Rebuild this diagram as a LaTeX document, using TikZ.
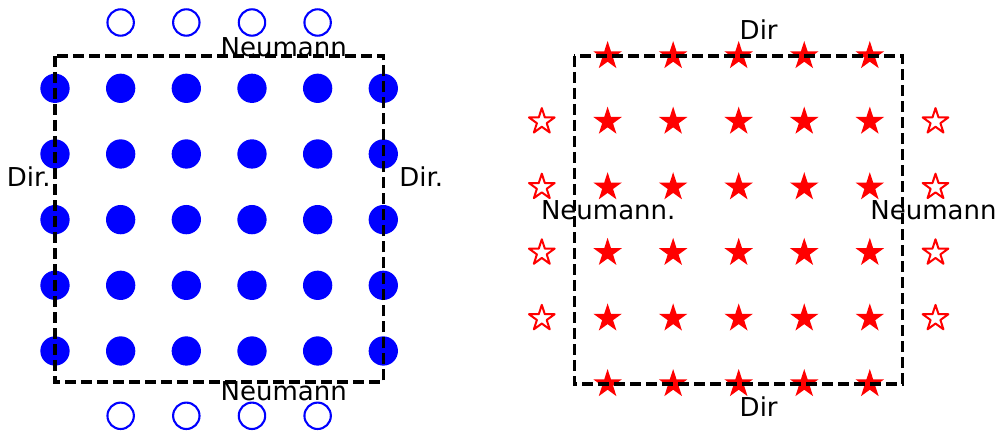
\documentclass[tikz,border=0pt]{standalone}
\usepackage{fontspec}
\setmainfont{DejaVu Sans}
% five-pointed star outline of outer radius #1 (one point upward, y axis points down)
\newcommand\pentastar[1]{(-90:#1) -- (-54:{0.382*#1}) -- (-18:#1) -- (18:{0.382*#1}) -- (54:#1) -- (90:{0.382*#1}) -- (126:#1) -- (162:{0.382*#1}) -- (198:#1) -- (234:{0.382*#1}) -- cycle}
\begin{document}
\begin{tikzpicture}[x=1pt,y=-1pt,
  bnd/.style={draw=black, line width=3.4pt, dash pattern=on 11pt off 5pt, line join=miter},
  dot/.style={circle, fill=blue, inner sep=0pt, minimum size=29.3pt},
  ghostdot/.style={circle, draw=blue, line width=2.1pt, inner sep=0pt, minimum size=26.4pt},
  fstar/.style={fill=red},
  ostar/.style={draw=red, fill=white, line width=2pt, line join=round},
  lbl/.style={font=\fontsize{26}{26}\selectfont, inner sep=0pt, anchor=base}]
\useasboundingbox (0,0) rectangle (999,433);

% ---- left grid: cell-centred unknowns with ghost rows ----
\foreach \i in {0,...,5} {
  \foreach \j in {0,...,4} {
    \node[dot] (l-\i-\j) at ({55+65.66*\i},{88.3+65.67*\j}) {};
  }
}
\foreach \i in {1,...,4} {
  \node[ghostdot] (lgt-\i) at ({55+65.66*\i},22.5) {};
  \node[ghostdot] (lgb-\i) at ({55+65.66*\i},415.8) {};
}
\coordinate (lnw) at (55,56);
\coordinate (lse) at (383.3,382);
\draw[bnd] (lnw) rectangle (lse);

% ---- right grid: staggered unknowns with ghost columns ----
\foreach \i in {0,...,4} {
  \foreach \j in {0,...,5} {
    \coordinate (r-\i-\j) at ({607.6+65.55*\i},{56+65.6*\j});
    \path[fstar, shift={(r-\i-\j)}] \pentastar{15};
  }
}
\foreach \j in {1,...,4} {
  \coordinate (rgl-\j) at (541.8,{56+65.6*\j});
  \coordinate (rgr-\j) at (935.5,{56+65.6*\j});
  \path[ostar, shift={(rgl-\j)}] \pentastar{13.5};
  \path[ostar, shift={(rgr-\j)}] \pentastar{13.5};
}
\coordinate (rnw) at (574.3,56);
\coordinate (rse) at (902.5,384);
\draw[bnd] (rnw) rectangle (rse);

% ---- boundary-condition labels ----
\node[lbl] (lN1) at (283.7,56.3) {Neumann};
\node[lbl] (lN2) at (283.7,400.7) {Neumann};
\node[lbl] (lD1) at (28.7,186) {Dir.};
\node[lbl] (lD2) at (421.2,186) {Dir.};
\node[lbl] (rD1) at (758.7,39.3) {Dir};
\node[lbl] (rD2) at (758.7,416.7) {Dir};
\node[lbl, anchor=base west] (rN1) at (540.8,219.5) {Neumann.};
\node[lbl, anchor=base west] (rN2) at (870.2,219.5) {Neumann};
\end{tikzpicture}
\end{document}
